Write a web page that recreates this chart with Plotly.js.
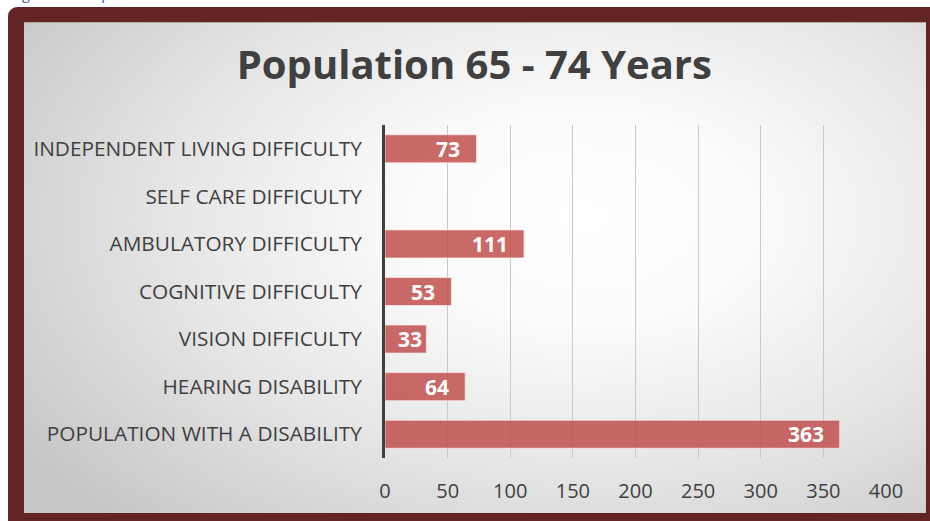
<!DOCTYPE html>
<html>
<head>
<meta charset="utf-8">
<script src="https://cdn.plot.ly/plotly-3.0.1.min.js"></script>
<style>
  html, body { margin: 0; padding: 0; width: 930px; height: 521px; overflow: hidden; background: #ffffff; }
  #caption { position: absolute; left: 12px; top: -14px; line-height: 15px; font-family: "Open Sans", sans-serif; font-style: italic; font-size: 15px; color: #2f5597; white-space: nowrap; }
  #frame { position: absolute; left: 8px; top: 7px; width: 930px; height: 520px; background: #622424; border-top-left-radius: 9px; }
  #panel { position: absolute; left: 24px; top: 22px; width: 902px; height: 490px;
    background: radial-gradient(ellipse 75% 85% at 62% 40%, #ffffff 0%, #fbfbfb 25%, #e6e6e6 60%, #c6c6c6 100%);
    border-top: 1px solid #b9a6a6; }
  #chart { position: absolute; left: 0; top: 0; width: 930px; height: 521px; }
</style>
</head>
<body>
<div id="caption">Figure 10 - Population 65 - 74 Years with Disabilities</div>
<div id="frame"></div>
<div id="panel"></div>
<div id="chart"></div>
<script>
const categories = [
  "POPULATION WITH A DISABILITY",
  "HEARING DISABILITY",
  "VISION DIFFICULTY",
  "COGNITIVE DIFFICULTY",
  "AMBULATORY DIFFICULTY",
  "SELF CARE DIFFICULTY",
  "INDEPENDENT LIVING DIFFICULTY"
];
const values = [363, 64, 33, 53, 111, 0, 73];
const xTicks = [0, 50, 100, 150, 200, 250, 300, 350, 400];
const chartTitle = "Population 65 - 74 Years";

const trace = {
  type: "bar",
  orientation: "h",
  y: categories,
  x: values,
  textposition: "none",
  marker: { color: "rgba(192,80,77,0.85)", line: { color: "rgba(255,235,235,0.7)", width: 1 } },
  hoverinfo: "none"
};

// inside-end labels; short bars get a smaller end margin (as in the original)
const pxPerUnit = 501 / 400;
const labelAnnotations = values.map((v, i) => {
  if (!v) return null;
  const roomy = v * pxPerUnit - String(v).length * 12 >= 30;
  return {
    x: v, y: categories[i], xref: "x", yref: "y",
    text: String(v), showarrow: false,
    xanchor: "right", yanchor: "middle", xshift: roomy ? -14 : -2,
    font: { family: "Open Sans, sans-serif", size: 21, color: "#ffffff", weight: 700 }
  };
}).filter(a => a);

const layout = {
  width: 930, height: 521,
  paper_bgcolor: "rgba(0,0,0,0)",
  plot_bgcolor: "rgba(0,0,0,0)",
  margin: { l: 385, r: 44, t: 125, b: 63, pad: 0 },
  bargap: 0.41,
  showlegend: false,
  annotations: labelAnnotations,
  title: {
    text: chartTitle,
    x: 0.51, xanchor: "center",
    y: 0.875, yanchor: "middle",
    font: { family: "Open Sans, sans-serif", size: 40, color: "#404040", weight: 700 }
  },
  xaxis: {
    range: [0, 400],
    tickvals: xTicks,
    ticktext: xTicks.map(String),
    showgrid: true, gridcolor: "#c8c8c8", gridwidth: 1,
    zeroline: false, showline: false, ticks: "",
    ticklabelstandoff: 19,
    tickfont: { family: "Open Sans, sans-serif", size: 20, color: "#404040" },
    fixedrange: true
  },
  yaxis: {
    type: "category",
    categoryorder: "array", categoryarray: categories,
    showgrid: false, zeroline: false,
    showline: true, linecolor: "#404040", linewidth: 3,
    ticks: "",
    ticklabelstandoff: 16,
    tickfont: { family: "Open Sans, sans-serif", size: 20.8, color: "#404040" },
    fixedrange: true
  }
};

Plotly.newPlot("chart", [trace], layout, { displayModeBar: false, staticPlot: true });
</script>
</body>
</html>
